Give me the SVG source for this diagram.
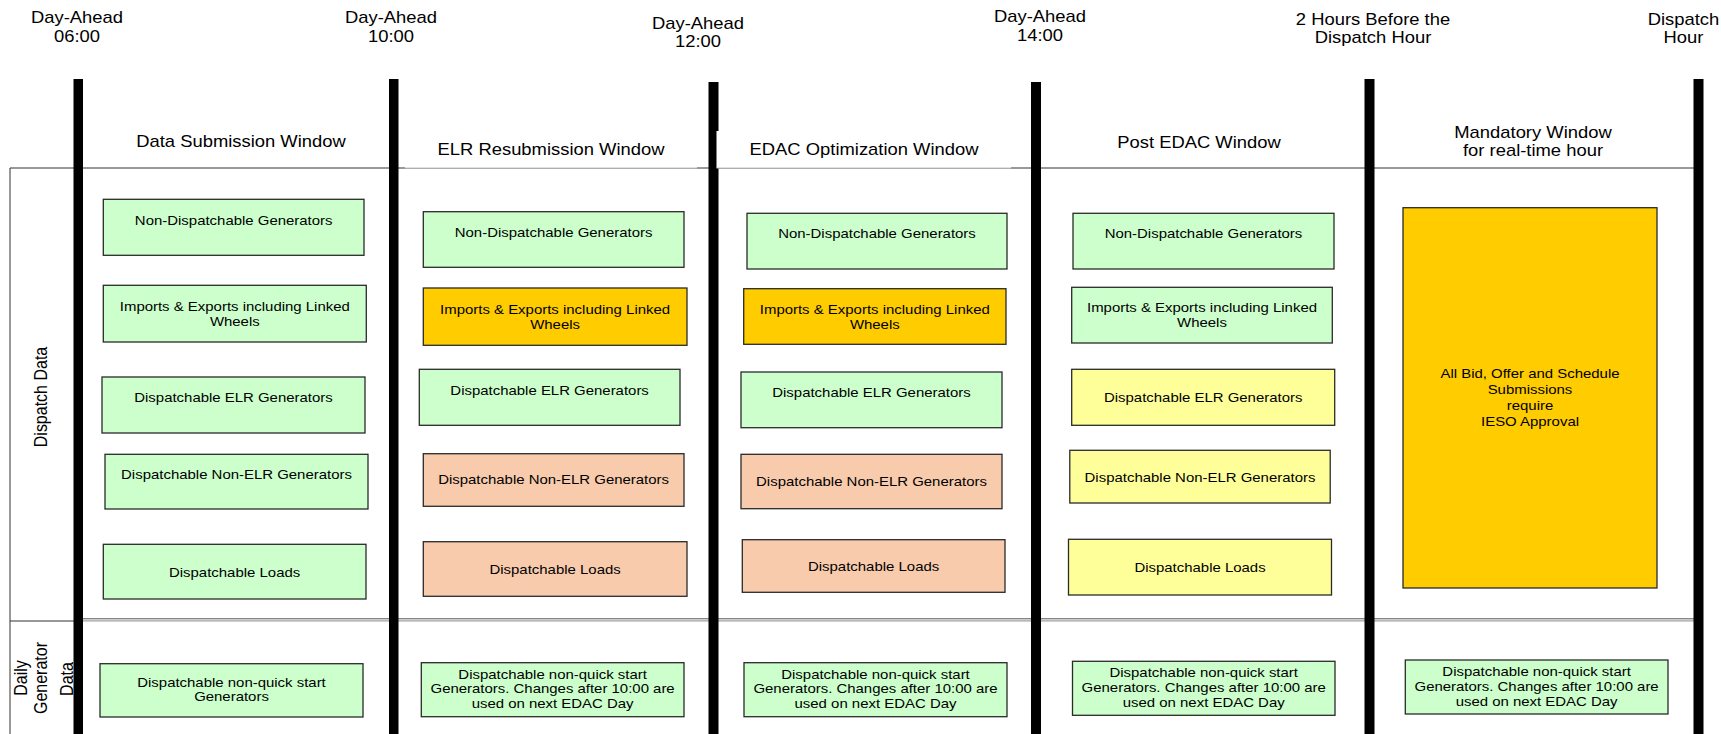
<svg xmlns="http://www.w3.org/2000/svg" width="1721" height="734" viewBox="0 0 1721 734">
<style>
  .hd { font-family: "Liberation Sans", Arial, sans-serif; font-size: 16px; fill: #000; text-anchor: middle; }
  .bt { font-family: "Liberation Sans", Arial, sans-serif; font-size: 13px; fill: #000; text-anchor: middle; }
  .bar { fill: #000; }
  .grn { fill: #CCFFCC; stroke: #2a2a2a; stroke-width: 1.3; }
  .org { fill: #FFCC00; stroke: #2a2a2a; stroke-width: 1.3; }
  .pch { fill: #F8CBAD; stroke: #2a2a2a; stroke-width: 1.3; }
  .yel { fill: #FFFF99; stroke: #2a2a2a; stroke-width: 1.3; }
  .ln { stroke: #333; stroke-width: 1; fill: none; }
</style>
<rect x="0" y="0" width="1721" height="734" fill="#fff"/>

<g id="grid">
  <line class="ln" x1="10" y1="168" x2="1694" y2="168"/>
  <line class="ln" x1="10" y1="168" x2="10" y2="734"/>
  <line class="ln" x1="10" y1="621" x2="74" y2="621"/>
  <line x1="83" y1="618.8" x2="1694" y2="618.8" stroke="#555" stroke-width="1"/>
  <line x1="83" y1="620.8" x2="1694" y2="620.8" stroke="#a0a0a0" stroke-width="1.2"/>
  <rect class="bar" x="73.5" y="79" width="9.5" height="655"/>
  <rect class="bar" x="389" y="79" width="9.5" height="655"/>
  <rect class="bar" x="708.5" y="82" width="10" height="652"/>
  <rect class="bar" x="1031" y="82" width="10" height="652"/>
  <rect class="bar" x="1364.5" y="79" width="10" height="655"/>
  <rect class="bar" x="1693.5" y="79" width="10" height="655"/>
  <rect x="405" y="131" width="292" height="37" fill="#fff"/>
  <line x1="405" y1="168" x2="697" y2="168" stroke="#c4c4c4" stroke-width="1"/>
  <rect x="716.5" y="131" width="294.5" height="37" fill="#fff"/>
  <line x1="716.5" y1="168" x2="1011" y2="168" stroke="#c4c4c4" stroke-width="1"/>
</g>

<g id="time-labels">
  <text class="hd" transform="translate(77 23) scale(1.15 1)"><tspan x="0" y="0">Day-Ahead</tspan><tspan x="0" y="19">06:00</tspan></text>
  <text class="hd" transform="translate(391 23.3) scale(1.15 1)"><tspan x="0" y="0">Day-Ahead</tspan><tspan x="0" y="19">10:00</tspan></text>
  <text class="hd" transform="translate(698 29) scale(1.15 1)"><tspan x="0" y="0">Day-Ahead</tspan><tspan x="0" y="18.5">12:00</tspan></text>
  <text class="hd" transform="translate(1040 22) scale(1.15 1)"><tspan x="0" y="0">Day-Ahead</tspan><tspan x="0" y="19.3">14:00</tspan></text>
  <text class="hd" transform="translate(1373 25) scale(1.15 1)"><tspan x="0" y="0">2 Hours Before the</tspan><tspan x="0" y="18">Dispatch Hour</tspan></text>
  <text class="hd" transform="translate(1683.5 25.3) scale(1.15 1)"><tspan x="0" y="0">Dispatch</tspan><tspan x="0" y="18">Hour</tspan></text>
</g>

<g id="window-labels">
  <text class="hd" transform="translate(241 146.7) scale(1.15 1)">Data Submission Window</text>
  <text class="hd" transform="translate(551 155) scale(1.15 1)">ELR Resubmission Window</text>
  <text class="hd" transform="translate(864 155) scale(1.15 1)">EDAC Optimization Window</text>
  <text class="hd" transform="translate(1199 148) scale(1.15 1)">Post EDAC Window</text>
  <text class="hd" transform="translate(1533 137.7) scale(1.15 1)"><tspan x="0" y="0">Mandatory Window</tspan><tspan x="0" y="18.8">for real-time hour</tspan></text>
</g>

<g id="row-labels">
  <text class="hd" transform="translate(46.5 397) scale(1.15 1) rotate(-90)">Dispatch Data</text>
  <text class="hd" transform="translate(27 678) scale(1.15 1) rotate(-90)">Daily</text>
  <text class="hd" transform="translate(46.5 678) scale(1.15 1) rotate(-90)">Generator</text>
  <text class="hd" transform="translate(72.5 679) scale(1.15 1) rotate(-90)">Data</text>
</g>

<!-- Column 1 -->
<g id="c1-nondisp"><rect class="grn" x="103.3" y="199.3" width="260.7" height="56"/>
  <text class="bt" transform="translate(233.7 224.7) scale(1.15 1)">Non-Dispatchable Generators</text></g>
<g id="c1-imports"><rect class="grn" x="103.3" y="285.3" width="263" height="56.7"/>
  <text class="bt" transform="translate(234.8 311) scale(1.15 1)"><tspan x="0" y="0">Imports &amp; Exports including Linked</tspan><tspan x="0" y="15">Wheels</tspan></text></g>
<g id="c1-elr"><rect class="grn" x="102" y="377" width="263" height="56"/>
  <text class="bt" transform="translate(233.5 402) scale(1.15 1)">Dispatchable ELR Generators</text></g>
<g id="c1-nonelr"><rect class="grn" x="105" y="454.3" width="263" height="54.7"/>
  <text class="bt" transform="translate(236.5 479) scale(1.15 1)">Dispatchable Non-ELR Generators</text></g>
<g id="c1-loads"><rect class="grn" x="103.3" y="544.3" width="262.7" height="54.7"/>
  <text class="bt" transform="translate(234.6 577) scale(1.15 1)">Dispatchable Loads</text></g>
<g id="c1-daily"><rect class="grn" x="100" y="663.7" width="263" height="53.3"/>
  <text class="bt" transform="translate(231.5 687) scale(1.15 1)"><tspan x="0" y="0">Dispatchable non-quick start</tspan><tspan x="0" y="14.5">Generators</tspan></text></g>

<!-- Column 2 -->
<g id="c2-nondisp"><rect class="grn" x="423.3" y="211.7" width="260.7" height="55.6"/>
  <text class="bt" transform="translate(553.6 237) scale(1.15 1)">Non-Dispatchable Generators</text></g>
<g id="c2-imports"><rect class="org" x="423.3" y="288" width="263.7" height="57.3"/>
  <text class="bt" transform="translate(555.1 314) scale(1.15 1)"><tspan x="0" y="0">Imports &amp; Exports including Linked</tspan><tspan x="0" y="15">Wheels</tspan></text></g>
<g id="c2-elr"><rect class="grn" x="419.3" y="369.3" width="260.7" height="56"/>
  <text class="bt" transform="translate(549.6 395) scale(1.15 1)">Dispatchable ELR Generators</text></g>
<g id="c2-nonelr"><rect class="pch" x="423.3" y="453.7" width="260.7" height="52.6"/>
  <text class="bt" transform="translate(553.6 484) scale(1.15 1)">Dispatchable Non-ELR Generators</text></g>
<g id="c2-loads"><rect class="pch" x="423.3" y="541.7" width="263.7" height="54.6"/>
  <text class="bt" transform="translate(555.1 574) scale(1.15 1)">Dispatchable Loads</text></g>
<g id="c2-daily"><rect class="grn" x="421.3" y="662.7" width="262.7" height="54"/>
  <text class="bt" transform="translate(552.6 678.5) scale(1.15 1)"><tspan x="0" y="0">Dispatchable non-quick start</tspan><tspan x="0" y="15">Generators. Changes after 10:00 are</tspan><tspan x="0" y="30">used on next EDAC Day</tspan></text></g>

<!-- Column 3 -->
<g id="c3-nondisp"><rect class="grn" x="747" y="213.3" width="260" height="55.7"/>
  <text class="bt" transform="translate(877 238) scale(1.15 1)">Non-Dispatchable Generators</text></g>
<g id="c3-imports"><rect class="org" x="743.7" y="288.7" width="262.3" height="55.6"/>
  <text class="bt" transform="translate(874.8 314) scale(1.15 1)"><tspan x="0" y="0">Imports &amp; Exports including Linked</tspan><tspan x="0" y="15">Wheels</tspan></text></g>
<g id="c3-elr"><rect class="grn" x="741" y="372" width="261" height="55.7"/>
  <text class="bt" transform="translate(871.5 397) scale(1.15 1)">Dispatchable ELR Generators</text></g>
<g id="c3-nonelr"><rect class="pch" x="741" y="454.3" width="261" height="54.4"/>
  <text class="bt" transform="translate(871.5 486) scale(1.15 1)">Dispatchable Non-ELR Generators</text></g>
<g id="c3-loads"><rect class="pch" x="742.3" y="539.7" width="262.7" height="52.6"/>
  <text class="bt" transform="translate(873.6 571) scale(1.15 1)">Dispatchable Loads</text></g>
<g id="c3-daily"><rect class="grn" x="744" y="662.7" width="263" height="54"/>
  <text class="bt" transform="translate(875.5 678.5) scale(1.15 1)"><tspan x="0" y="0">Dispatchable non-quick start</tspan><tspan x="0" y="15">Generators. Changes after 10:00 are</tspan><tspan x="0" y="30">used on next EDAC Day</tspan></text></g>

<!-- Column 4 -->
<g id="c4-nondisp"><rect class="grn" x="1073" y="213.3" width="261" height="55.7"/>
  <text class="bt" transform="translate(1203.5 238) scale(1.15 1)">Non-Dispatchable Generators</text></g>
<g id="c4-imports"><rect class="grn" x="1071.7" y="287.3" width="260.6" height="55.7"/>
  <text class="bt" transform="translate(1202 312) scale(1.15 1)"><tspan x="0" y="0">Imports &amp; Exports including Linked</tspan><tspan x="0" y="15.5">Wheels</tspan></text></g>
<g id="c4-elr"><rect class="yel" x="1071.7" y="369.3" width="263" height="56"/>
  <text class="bt" transform="translate(1203.2 402) scale(1.15 1)">Dispatchable ELR Generators</text></g>
<g id="c4-nonelr"><rect class="yel" x="1069.8" y="450.3" width="260.4" height="52.7"/>
  <text class="bt" transform="translate(1200 482) scale(1.15 1)">Dispatchable Non-ELR Generators</text></g>
<g id="c4-loads"><rect class="yel" x="1068.5" y="539.3" width="263" height="55.7"/>
  <text class="bt" transform="translate(1200 572) scale(1.15 1)">Dispatchable Loads</text></g>
<g id="c4-daily"><rect class="grn" x="1072.5" y="661.3" width="262.5" height="54"/>
  <text class="bt" transform="translate(1203.7 677) scale(1.15 1)"><tspan x="0" y="0">Dispatchable non-quick start</tspan><tspan x="0" y="15">Generators. Changes after 10:00 are</tspan><tspan x="0" y="30">used on next EDAC Day</tspan></text></g>

<!-- Column 5 -->
<g id="c5-approval"><rect class="org" x="1403" y="207.7" width="254" height="380.3"/>
  <text class="bt" transform="translate(1530 378.3) scale(1.15 1)"><tspan x="0" y="0">All Bid, Offer and Schedule</tspan><tspan x="0" y="16">Submissions</tspan><tspan x="0" y="32">require</tspan><tspan x="0" y="48">IESO Approval</tspan></text></g>
<g id="c5-daily"><rect class="grn" x="1405.3" y="660" width="262.7" height="54"/>
  <text class="bt" transform="translate(1536.6 676) scale(1.15 1)"><tspan x="0" y="0">Dispatchable non-quick start</tspan><tspan x="0" y="15">Generators. Changes after 10:00 are</tspan><tspan x="0" y="30">used on next EDAC Day</tspan></text></g>
</svg>
